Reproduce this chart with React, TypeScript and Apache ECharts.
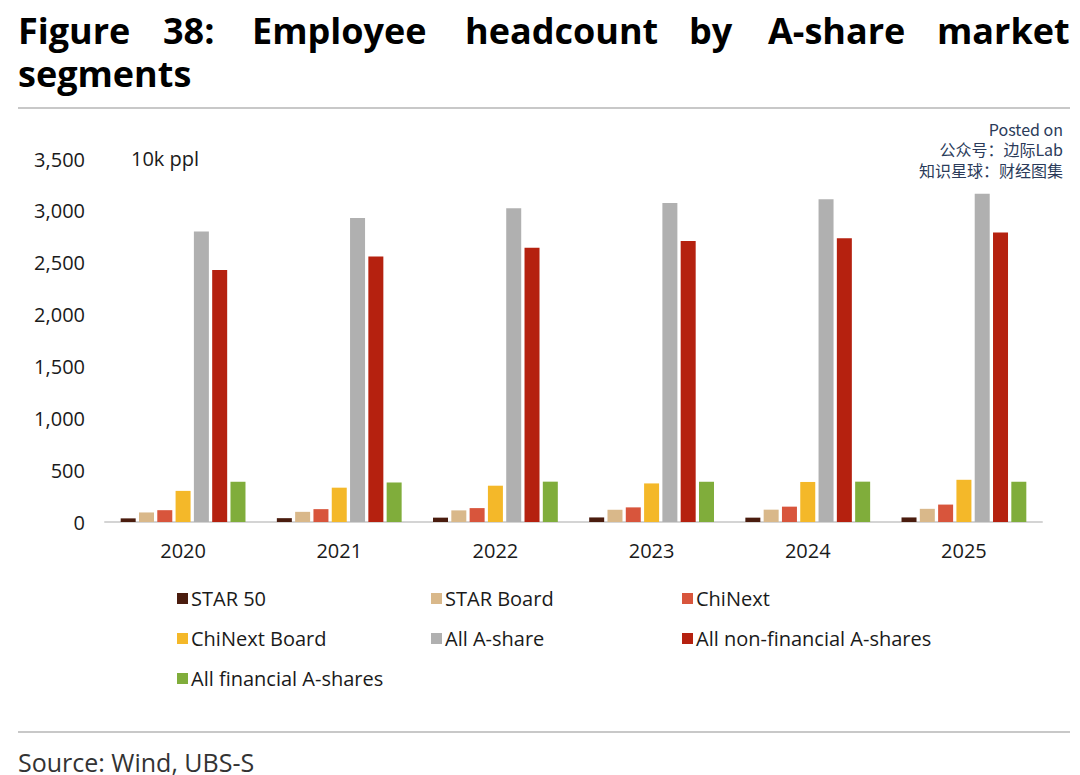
import React, { useEffect, useRef } from "react";
import * as echarts from "echarts";

const years = ["2020", "2021", "2022", "2023", "2024", "2025"];
const star50 = [35, 37, 42, 44, 42, 44];
const starBoard = [92, 98, 112, 118, 119, 127];
const chiNext = [114, 124, 134, 141, 148, 168];
const chiNextBoard = [300, 331, 350, 372, 386, 407];
const allAShare = [2800, 2930, 3025, 3075, 3112, 3165];
const nonFinancial = [2430, 2560, 2645, 2710, 2737, 2792];
const financial = [388, 381, 389, 388, 389, 388];

const seriesNames = [
  "STAR 50",
  "STAR Board",
  "ChiNext",
  "ChiNext Board",
  "All A-share",
  "All non-financial A-shares",
  "All financial A-shares",
];
const seriesData = [star50, starBoard, chiNext, chiNextBoard, allAShare, nonFinancial, financial];
const colors = ["#4a1c0e", "#d9b88a", "#d8553c", "#f4b829", "#b0b0b0", "#b5210f", "#80ad3b"];

// title line 1 words with the width of the slot each occupies (justified look)
const titleWords = ["Figure", "38:", "Employee", "headcount", "by", "A-share", "market"];
const titleSlots = [145, 89, 213, 224, 79, 169, 133];
const titleLine2 = "segments";
const watermark = ["Posted on", "公众号：边际Lab", "知识星球：财经图集"];

const FONT = "'Open Sans', 'Noto Sans', sans-serif";

export default function App() {
  const ref = useRef<HTMLDivElement>(null);
  useEffect(() => {
    if (!ref.current) return;
    const chart = echarts.init(ref.current, null, { renderer: "svg" });
    const textColor = "#1a1a1a";
    const rich: any = {};
    titleWords.forEach((w, i) => {
      rich["w" + i] = {
        width: titleSlots[i],
        align: "left",
        fontFamily: FONT,
        fontWeight: "bold",
        fontSize: 36,
        lineHeight: 43,
        color: "#111",
      };
    });
    rich.seg = { fontFamily: FONT, fontWeight: "bold", fontSize: 36, lineHeight: 43, color: "#111" };
    const titleText =
      titleWords.map((w, i) => `{w${i}|${w}}`).join("") + "\n" + `{seg|${titleLine2}}`;

    const graphic: any[] = [
      {
        type: "text",
        style: { text: titleText, x: 18, y: 8.5, rich, verticalAlign: "top", align: "left" },
      },
      { type: "line", shape: { x1: 18, y1: 108, x2: 1070, y2: 108 }, style: { stroke: "#c8c8c8", lineWidth: 2 } },
      { type: "line", shape: { x1: 18, y1: 732, x2: 1070, y2: 732 }, style: { stroke: "#c8c8c8", lineWidth: 2 } },
      {
        type: "text",
        style: { text: "Source: Wind, UBS-S", x: 18, y: 762, font: `25px ${FONT}`, lineHeight: 25, fill: "#333", verticalAlign: "middle" },
      },
      {
        type: "text",
        style: { text: "10k ppl", x: 131, y: 158, font: `20px ${FONT}`, fill: textColor, verticalAlign: "middle" },
      },
      {
        type: "text",
        style: {
          text: watermark.join("\n"),
          x: 1063,
          y: 118.5,
          font: `16px 'Noto Sans CJK SC', 'Noto Sans', sans-serif`,
          lineHeight: 20.5,
          fill: "#2b3b5a",
          verticalAlign: "top",
          align: "right",
        },
      },
    ];

    const legendCols = [
      { left: 172, items: [0, 3, 6] },
      { left: 426, items: [1, 4] },
      { left: 677, items: [2, 5] },
    ];

    chart.setOption({
      animation: false,
      backgroundColor: "#ffffff",
      graphic,
      grid: { left: 105, right: 38, top: 159, bottom: 253, containLabel: false },
      legend: legendCols.map((c) => ({
        orient: "vertical",
        left: c.left,
        top: 583,
        itemWidth: 11,
        itemHeight: 11,
        itemGap: 19,
        icon: "rect",
        selectedMode: false,
        textStyle: { fontFamily: FONT, fontSize: 20, color: textColor, lineHeight: 21, padding: [0, 0, 0, -2] },
        data: c.items.map((i) => seriesNames[i]),
      })),
      xAxis: {
        type: "category",
        data: years,
        axisLine: { show: true, lineStyle: { color: "#d4d4d4", width: 2 } },
        axisTick: { show: false },
        axisLabel: { fontFamily: FONT, fontSize: 20, color: textColor, margin: 18 },
      },
      yAxis: {
        type: "value",
        min: 0,
        max: 3500,
        interval: 500,
        splitLine: { show: false },
        axisLine: { show: false },
        axisTick: { show: false },
        axisLabel: {
          fontFamily: FONT,
          fontSize: 20,
          color: textColor,
          margin: 20,
          formatter: (v: number) => v.toLocaleString("en-US"),
        },
      },
      series: seriesNames.map((name, i) => ({
        name,
        type: "bar",
        data: seriesData[i],
        barWidth: 15,
        barGap: "22%",
        itemStyle: { color: colors[i] },
      })),
    });
    return () => chart.dispose();
  }, []);
  return (
    <div
      ref={ref}
      style={{ position: "fixed", left: 0, top: 0, width: 1080, height: 775, background: "#fff" }}
    />
  );
}
